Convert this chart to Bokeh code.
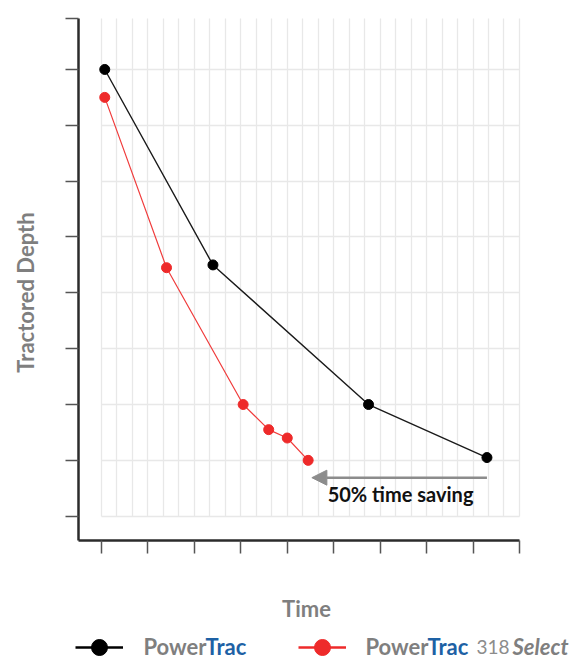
import math
from bokeh.plotting import figure
from bokeh.models import (ColumnDataSource, FixedTicker, BoxAnnotation, Label, Arrow,
                          NormalHead, Legend, LegendItem, Range1d, LinearAxis, Grid,
                          CustomJSTickFormatter)
from bokeh.embed import file_html
from bokeh.resources import INLINE

# ---- data ----
powertrac_time = [0.07, 2.4, 5.75, 8.3]
powertrac_depth = [8.0, 4.5, 2.0, 1.05]
select_time = [0.07, 1.4, 3.05, 3.6, 4.0, 4.45]
select_depth = [7.5, 4.45, 2.0, 1.55, 1.4, 1.0]
x_ticks = list(range(0, 10))
y_ticks = list(range(0, 9))
x_title = "Time"
y_title = "Tractored Depth"
saving_text = "50% time saving"

# view ranges (frame = whole canvas) and axis extents
X_START, X_END = -2.175, 10.293
Y_START, Y_END = -2.584, 9.235
X_AX_LOC, Y_AX_LOC = -0.495, -0.435      # where the y-axis / x-axis lines sit
X_AX_END, Y_AX_TOP = 9.0, 8.913

FONT = "Lato"
GRAY = "#7f7f7f"
BLUE = "#1d61a5"
RED = "#ee2a2a"

p = figure(width=579, height=660, output_backend="svg", toolbar_location=None,
           x_range=Range1d(X_START, X_END), y_range=Range1d(Y_START, Y_END),
           x_axis_type=None, y_axis_type=None, min_border=0)
p.outline_line_color = None

blank = CustomJSTickFormatter(code="return ''")
xaxis = LinearAxis(fixed_location=Y_AX_LOC, bounds=(X_AX_LOC, X_AX_END),
                   ticker=FixedTicker(ticks=x_ticks), formatter=blank)
yaxis = LinearAxis(fixed_location=X_AX_LOC, bounds=(Y_AX_LOC, Y_AX_TOP),
                   ticker=FixedTicker(ticks=y_ticks + [Y_AX_TOP - 0.001]), formatter=blank)
for ax in (xaxis, yaxis):
    ax.axis_line_color = "#2b2b2b"
    ax.axis_line_width = 2.5
    ax.major_tick_line_color = "#555555"
    ax.major_tick_line_width = 1.5
    ax.major_tick_out = 13
    ax.major_tick_in = 0
    ax.minor_tick_line_color = None
p.add_layout(xaxis, "below")
p.add_layout(yaxis, "left")

# grid
xgrid = Grid(dimension=0, ticker=FixedTicker(ticks=[i / 3 for i in range(3 * x_ticks[-1] + 1)]),
             bounds=(0, X_AX_END), grid_line_color="#e8e8e8", grid_line_width=1.3)
ygrid = Grid(dimension=1, ticker=FixedTicker(ticks=y_ticks),
             bounds=(0, y_ticks[-1]), grid_line_color="#e8e8e8", grid_line_width=1.3)
if "cross_bounds" in Grid.properties():
    xgrid.cross_bounds = (0, Y_AX_TOP)
    ygrid.cross_bounds = (0, X_AX_END)
    p.add_layout(xgrid)
    p.add_layout(ygrid)
else:
    p.add_layout(xgrid)
    p.add_layout(ygrid)
    for kw in (dict(right=-0.02), dict(top=-0.02), dict(bottom=Y_AX_TOP), dict(left=X_AX_END + 0.02)):
        p.add_layout(BoxAnnotation(fill_color="white", fill_alpha=1.0, line_alpha=0,
                                   level="underlay", **kw))

src_pt = ColumnDataSource(dict(t=powertrac_time, d=powertrac_depth))
src_sel = ColumnDataSource(dict(t=select_time, d=select_depth))

p.line("t", "d", source=src_pt, line_color="#1a1a1a", line_width=1.4)
p.scatter("t", "d", source=src_pt, size=10, fill_color="black", line_color="black")
p.line("t", "d", source=src_sel, line_color="#f03c3c", line_width=1.2)
p.scatter("t", "d", source=src_sel, size=10, fill_color=RED, line_color=RED)

# arrow + annotation
arrow_y = select_depth[-1] - 0.31
p.add_layout(Arrow(x_start=powertrac_time[-1], y_start=arrow_y,
                   x_end=select_time[-1] + 0.08, y_end=arrow_y,
                   line_color="#8c8c8c", line_width=2.5,
                   end=NormalHead(size=15, fill_color="#8c8c8c", line_color="#8c8c8c")))
p.add_layout(Label(x=4.87, y=arrow_y - 0.29, text=saving_text, text_font=FONT,
                   text_font_style="bold", text_font_size="20px", text_color="#111111",
                   text_align="left", text_baseline="middle"))

# axis titles (screen units: from the canvas' bottom-left corner)
p.add_layout(Label(x=25, y=368, x_units="screen", y_units="screen", text=y_title,
                   angle=math.pi / 2, text_font=FONT, text_font_style="bold",
                   text_font_size="22px", text_color=GRAY,
                   text_align="center", text_baseline="middle"))
p.add_layout(Label(x=306, y=52, x_units="screen", y_units="screen", text=x_title,
                   text_font=FONT, text_font_style="bold", text_font_size="22px",
                   text_color=GRAY, text_align="center", text_baseline="middle"))

# legend samples (hidden renderers, drawn by the legend)
lg_l1 = p.line("t", "d", source=src_pt, line_color="black", line_width=2.5, visible=False)
lg_s1 = p.scatter("t", "d", source=src_pt, fill_color="black", line_color="black", visible=False)
lg_l2 = p.line("t", "d", source=src_sel, line_color=RED, line_width=2.5, visible=False)
lg_s2 = p.scatter("t", "d", source=src_sel, fill_color=RED, line_color=RED, visible=False)
legend = Legend(items=[LegendItem(label=" ", renderers=[lg_l1, lg_s1]),
                       LegendItem(label=" ", renderers=[lg_l2, lg_s2])],
                location=(75, -7), orientation="horizontal",
                glyph_width=48, glyph_height=40, label_width=175, label_standoff=0,
                spacing=0, padding=0, margin=0, border_line_alpha=0,
                background_fill_alpha=0, label_text_font_size="10px",
                click_policy="none")
p.add_layout(legend)

# legend texts
leg_y = 14
def leg_text(x, text, color, style="bold", size="22px"):
    p.add_layout(Label(x=x, y=leg_y, x_units="screen", y_units="screen", text=text,
                       text_font=FONT, text_font_style=style, text_font_size=size,
                       text_color=color, text_align="left", text_baseline="middle"))

leg_text(143, "Power", GRAY)
leg_text(205, "Trac", BLUE)
leg_text(365, "Power", GRAY)
leg_text(427, "Trac", BLUE)
leg_text(476, "318", "#8c8c8c", "normal", "19px")
leg_text(512, "Select", GRAY, "bold italic")

open("out.html", "w").write(file_html(p, INLINE))
